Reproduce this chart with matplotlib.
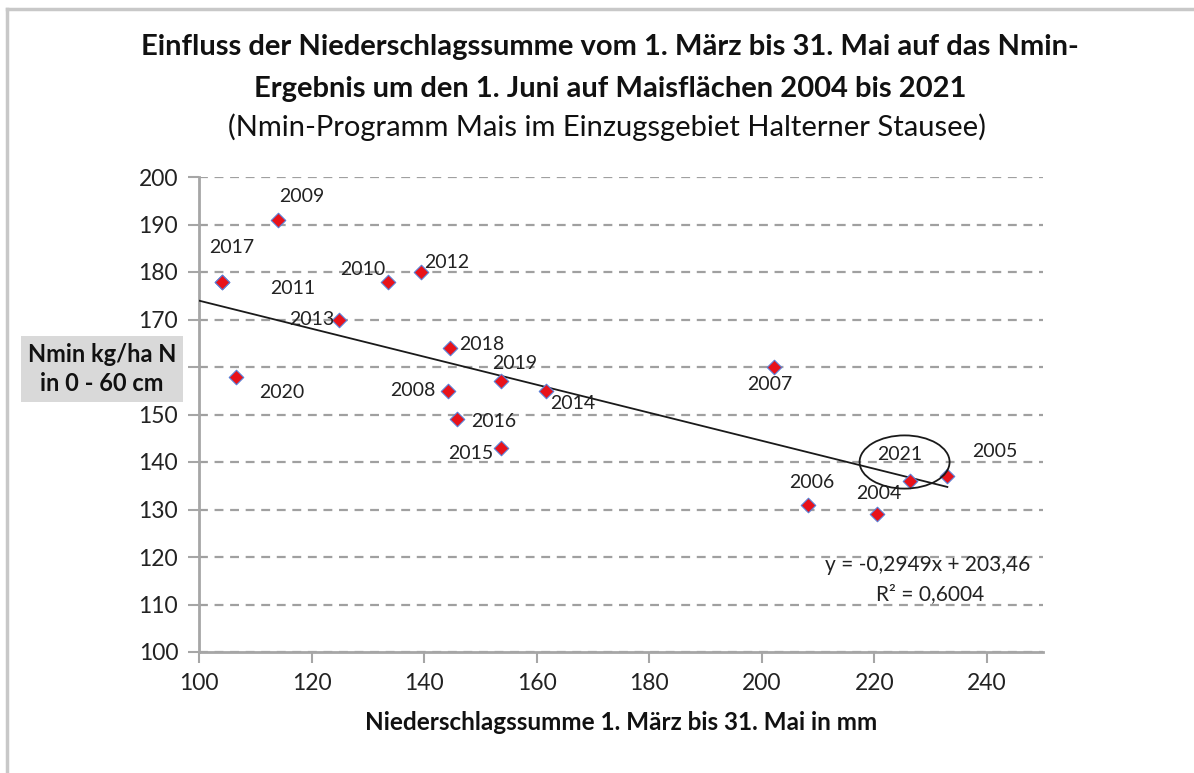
import matplotlib
matplotlib.use("Agg")
import matplotlib.pyplot as plt
from matplotlib.patches import Ellipse
from matplotlib.lines import Line2D
import numpy as np

plt.rcParams['font.family'] = ['Lato', 'DejaVu Sans']

# Niederschlag (mm) und Nmin (kg/ha N) je Jahr
years = ['2017', '2009', '2011', '2010', '2012', '2013', '2020', '2018', '2019',
         '2008', '2016', '2015', '2014', '2007', '2006', '2004', '2021', '2005']
rain = [104.0, 114.0, 104.0, 133.6, 139.4, 124.8, 106.6, 144.6, 153.7,
        144.2, 145.9, 153.7, 161.7, 202.2, 208.3, 220.5, 226.3, 233.0]
nmin = [178, 191, 178, 178, 180, 170, 158, 164, 157,
        155, 149, 143, 155, 160, 131, 129, 136, 137]

y_ticks = [100, 110, 120, 130, 140, 150, 160, 170, 180, 190, 200]
# 160 liegt unter dem Achsentitel-Kasten
y_ticklabels = ['100', '110', '120', '130', '140', '150', '', '170', '180', '190', '200']
x_ticks = [100, 120, 140, 160, 180, 200, 220, 240]

# Beschriftungsversatz in Pixeln
label_off = {
    '2017': (10, 34), '2009': (24, 23), '2011': (71, -7), '2010': (-25, 12),
    '2012': (26, 10), '2013': (-27, 0), '2020': (46, -16), '2018': (32, 4),
    '2019': (14, 18), '2008': (-35, 0), '2016': (36, -2), '2015': (-30, -6),
    '2014': (27, -13), '2007': (-4, -17), '2006': (3, 22), '2004': (2, 21),
    '2021': (-10, 26), '2005': (47, 25),
}

slope, intercept = -0.2949, 203.46
r2 = 0.6004

fig = plt.figure(figsize=(11.94, 7.73), dpi=100)
ax = fig.add_axes([199 / 1194, 1 - 652 / 773, (1043 - 199) / 1194, (652 - 177) / 773])

axis_grey = '#a6a6a6'
ax.set_xlim(100, 250)
ax.set_ylim(100, 200)
ax.set_xticks(x_ticks)
ax.set_yticks(y_ticks)
ax.set_yticklabels(y_ticklabels)
ax.grid(axis='y', color='#a0a0a0', linestyle=(0, (4, 3)), linewidth=1.6)
ax.set_axisbelow(True)
for s in ['top', 'right']:
    ax.spines[s].set_visible(False)
for s in ['left', 'bottom']:
    ax.spines[s].set_color(axis_grey)
    ax.spines[s].set_linewidth(2)
ax.tick_params(axis='both', colors=axis_grey, width=1.5, length=8, labelsize=16.5,
               labelcolor='#222222', pad=7)

# Trendlinie
xt = np.array([100, max(rain)])
ax.plot(xt, slope * xt + intercept, color='#1a1a1a', linewidth=1.3, zorder=3)

ax.scatter(rain, nmin, marker='D', s=55, color='#e8121a', edgecolors='#5b7fd6',
           linewidths=0.8, zorder=4)

for yr, x, y in zip(years, rain, nmin):
    dx, dy = label_off[yr]
    ax.annotate(yr, (x, y), xytext=(dx, dy), textcoords='offset pixels',
                ha='center', va='center', fontsize=14, color='#222222', zorder=5)

ax.add_patch(Ellipse((225.4, 140.0), 16, 11.2, fill=False, edgecolor='#1a1a1a',
                     linewidth=1.3, zorder=5))

eq = f"y = {slope:.4f}x + {intercept:.2f}".replace('.', ',')
fig.text(928 / 1194, 1 - 565 / 773, eq, ha='center', va='center', fontsize=15,
         color='#222222')
fig.text(930 / 1194, 1 - 594 / 773, f"R² = {r2:.4f}".replace('.', ','),
         ha='center', va='center', fontsize=15, color='#222222')

# Titel
fig.text(610 / 1194, 1 - 47 / 773,
         'Einfluss der Niederschlagssumme vom 1. März bis 31. Mai auf das Nmin-',
         ha='center', va='center', fontsize=21, fontweight='bold', color='#111111')
fig.text(610 / 1194, 1 - 89 / 773,
         'Ergebnis um den 1. Juni auf Maisflächen 2004 bis 2021',
         ha='center', va='center', fontsize=21, fontweight='bold', color='#111111')
fig.text(607 / 1194, 1 - 127 / 773,
         '(Nmin-Programm Mais im Einzugsgebiet Halterner Stausee)',
         ha='center', va='center', fontsize=21, color='#111111')

# Achsentitel
fig.text(102 / 1194, 1 - 369 / 773, 'Nmin kg/ha N\nin 0 - 60 cm', ha='center',
         va='center', fontsize=17, fontweight='bold', color='#111111',
         linespacing=1.3,
         bbox=dict(boxstyle='square,pad=0.3', facecolor='#d9d9d9', edgecolor='none'))
fig.text(621 / 1194, 1 - 722 / 773, 'Niederschlagssumme 1. März bis 31. Mai in mm',
         ha='center', va='center', fontsize=17.5, fontweight='bold', color='#111111')

# Rahmen des Diagrammbereichs
fig.add_artist(Line2D([7 / 1194, 7 / 1194], [0, 1 - 9 / 773], transform=fig.transFigure,
                      color='#c8c8c8', linewidth=2.5))
fig.add_artist(Line2D([7 / 1194, 1], [1 - 9 / 773, 1 - 9 / 773], transform=fig.transFigure,
                      color='#c8c8c8', linewidth=2.5))

fig.savefig('out.png', dpi=100)
